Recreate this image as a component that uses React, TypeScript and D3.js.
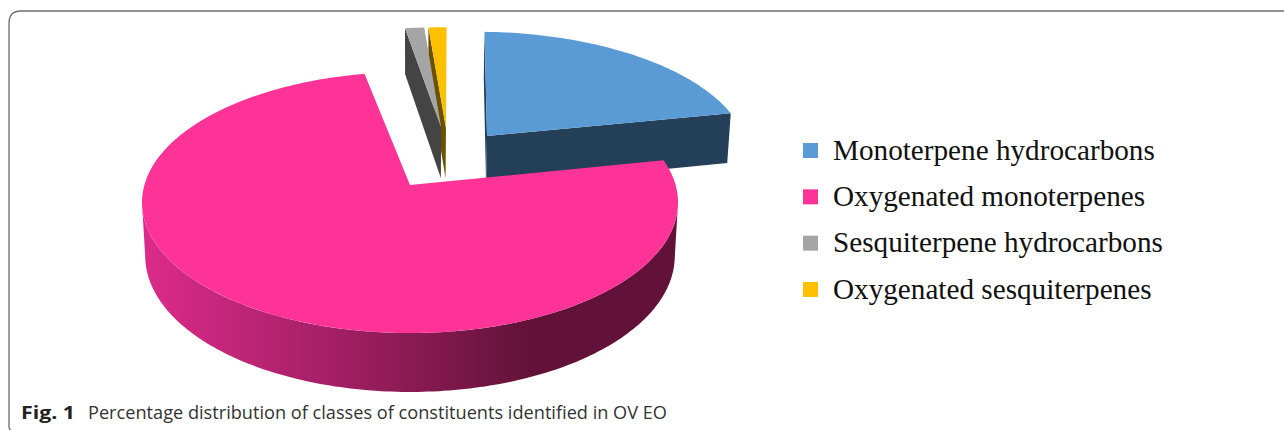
import React from "react";
import * as d3 from "d3";

const categories = ["Monoterpene hydrocarbons", "Oxygenated monoterpenes", "Sesquiterpene hydrocarbons", "Oxygenated sesquiterpenes"];
const percentages = [21.5, 75.7, 1.5, 1.3];
const topColors = ["#5b9bd5", "#fe3397", "#a5a5a5", "#ffc000"];
const wallColors = ["#243f58", "#651338", "#444444", "#6b5200"];

// how far each slice is pulled out, in units of the radius (disc plane)
const explodeU = [0.3056, 0, 0.125, 0.144];
const explodeV = [0.403, 0, 0.473, 0.473];
// the blue slice sits a touch bigger in the source image
const sliceRadius = [1.02, 1, 1, 1];
// small hand correction of the slice angles, degrees
const startTrim = [0.4, 0, 0.4, 0];
const endTrim = [0, -2.3, 0, 0];

const rad = (d: number) => (d * Math.PI) / 180;

// perspective projection of the tilted disc
const cx = 410, cy = 185;
const kx = 265.6, ky = 128.2, persp = 0.134;
const depth = 53.5, depthPersp = 0.012;

function project(u: number, v: number, z: number): [number, number] {
    const den = 1 + persp * v + depthPersp * z;
    return [cx + (kx * u) / den, cy + (-ky * v + depth * z) / den];
}

const pieGen = d3.pie<number>().sort(null).startAngle(rad(1.2)).endAngle(rad(361.2));
const arcs = pieGen(percentages);
const lineGen = d3.line();

function rimPoint(i: number, a: number, z: number) {
    const r = sliceRadius[i];
    return project(explodeU[i] + r * Math.sin(a), explodeV[i] + r * Math.cos(a), z);
}
function apex(i: number, z: number) {
    return project(explodeU[i], explodeV[i], z);
}
function sampleAngles(a0: number, a1: number) {
    const n = Math.max(2, Math.ceil((a1 - a0) / rad(1)));
    return d3.range(n + 1).map(k => a0 + ((a1 - a0) * k) / n);
}

export default function App() {
    const legendY = d3.scalePoint<string>().domain(categories).range([150.5, 289.5]);

    const slices = arcs.map((arc, i) => {
        const a0 = arc.startAngle + rad(startTrim[i]);
        const a1 = arc.endAngle + rad(endTrim[i]);
        const angles = sampleAngles(a0, a1);
        const top = lineGen([apex(i, 0), ...angles.map(a => rimPoint(i, a, 0))]) + "Z";
        const startWall = lineGen([apex(i, 0), rimPoint(i, a0, 0), rimPoint(i, a0, 1), apex(i, 1)]) + "Z";
        const endWall = lineGen([apex(i, 0), rimPoint(i, a1, 0), rimPoint(i, a1, 1), apex(i, 1)]) + "Z";
        // outer wall only between the two silhouette points of the disc
        const f0 = Math.max(a0, rad(98));
        const f1 = Math.min(a1, rad(262));
        let outer: string | null = null;
        if (f1 > f0) {
            const fa = sampleAngles(f0, f1);
            outer = lineGen([...fa.map(a => rimPoint(i, a, 0)), ...fa.slice().reverse().map(a => rimPoint(i, a, 1))]) + "Z";
        }
        return { i, top, startWall, endWall, outer };
    });

    // painter's order: back slices first, main pink slice last
    const order = [3, 2, 0, 1];

    return (
        <div style={{ position: "fixed", left: 0, top: 0 }}>
            <svg width={1284} height={430} style={{ display: "block", background: "#fff" }}>
                <defs>
                    <linearGradient id="pinkWall" gradientUnits="userSpaceOnUse" x1={142} x2={530} y1={0} y2={0}>
                        <stop offset="0%" stopColor="#dc2b8a" />
                        <stop offset="50%" stopColor="#a31f65" />
                        <stop offset="100%" stopColor="#621238" />
                    </linearGradient>
                </defs>

                <path d="M11 430 Q9 429 9 427 V23 Q9 11 21 11 H1284" fill="none" stroke="#6e6e6e" strokeWidth={1.3} />

                {order.map(k => {
                    const s = slices[k];
                    return (
                        <g key={k}>
                            {k !== 1 && <path d={s.startWall} fill={wallColors[k]} />}
                            {k === 0 && <path d={s.endWall} fill={wallColors[k]} />}
                            {s.outer && <path d={s.outer} fill={k === 1 ? "url(#pinkWall)" : wallColors[k]} />}
                            <path d={s.top} fill={topColors[k]} />
                        </g>
                    );
                })}

                {categories.map((c, i) => (
                    <g key={c}>
                        <rect x={803} y={legendY(c)! - 7.5} width={15} height={15} fill={topColors[i]} />
                        <text x={833} y={legendY(c)! + 9} fontFamily="'Liberation Serif'" fontSize={29.2} fill="#111">{c}</text>
                    </g>
                ))}

                <text x={21} y={419} fontFamily="'Open Sans'" fontSize={18} fontWeight={700} fill="#222" textLength={54} lengthAdjust="spacingAndGlyphs">Fig. 1</text>
                <text x={88} y={419} fontFamily="'Open Sans'" fontSize={19} fill="#333" textLength={579} lengthAdjust="spacingAndGlyphs">Percentage distribution of classes of constituents identified in OV EO</text>
            </svg>
        </div>
    );
}
